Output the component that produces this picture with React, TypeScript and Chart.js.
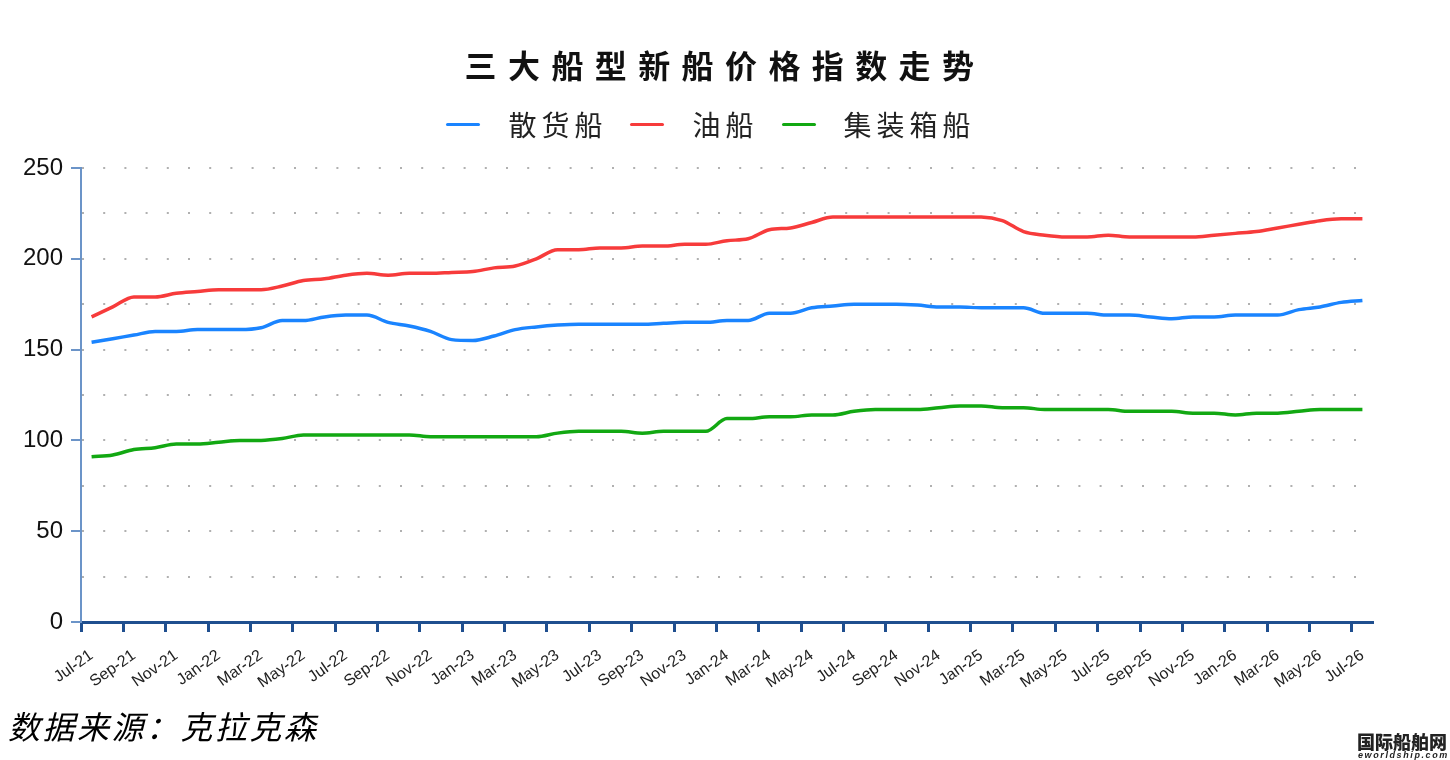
import React, { useEffect, useRef } from 'react';
import { Chart, registerables } from 'chart.js';

Chart.register(...registerables);

// monthly categories, Jul-21 .. Jul-26
const months = [
  'Jul-21', 'Aug-21', 'Sep-21', 'Oct-21', 'Nov-21', 'Dec-21',
  'Jan-22', 'Feb-22', 'Mar-22', 'Apr-22', 'May-22', 'Jun-22',
  'Jul-22', 'Aug-22', 'Sep-22', 'Oct-22', 'Nov-22', 'Dec-22',
  'Jan-23', 'Feb-23', 'Mar-23', 'Apr-23', 'May-23', 'Jun-23',
  'Jul-23', 'Aug-23', 'Sep-23', 'Oct-23', 'Nov-23', 'Dec-23',
  'Jan-24', 'Feb-24', 'Mar-24', 'Apr-24', 'May-24', 'Jun-24',
  'Jul-24', 'Aug-24', 'Sep-24', 'Oct-24', 'Nov-24', 'Dec-24',
  'Jan-25', 'Feb-25', 'Mar-25', 'Apr-25', 'May-25', 'Jun-25',
  'Jul-25', 'Aug-25', 'Sep-25', 'Oct-25', 'Nov-25', 'Dec-25',
  'Jan-26', 'Feb-26', 'Mar-26', 'Apr-26', 'May-26', 'Jun-26',
  'Jul-26',
];

// 散货船
const bulkIndex = [
  154, 156, 158, 160, 160, 161, 161, 161, 162, 166, 166, 168, 169, 169, 165, 163,
  160, 155.5, 155, 157.5, 161, 162.5, 163.5, 164, 164, 164, 164, 164.5, 165, 165, 166,
  166, 170, 170, 173, 174, 175, 175, 175, 174.5, 173.5, 173.5, 173, 173, 173, 170,
  170, 170, 169, 169, 168, 167, 168, 168, 169, 169, 169, 172, 173.5, 176, 177,
];

// 油船
const tankerIndex = [
  168, 173.5, 179, 179, 181, 182, 183, 183, 183, 185, 188, 189, 191, 192, 191, 192,
  192, 192.5, 193, 195, 196, 200, 205, 205, 206, 206, 207, 207, 208, 208, 210,
  211, 216, 217, 220, 223, 223, 223, 223, 223, 223, 223, 223, 221, 215, 213,
  212, 212, 213, 212, 212, 212, 212, 213, 214, 215, 217, 219, 221, 222, 222,
];

// 集装箱船
const containerIndex = [
  91, 92, 95, 96, 98, 98, 99, 100, 100, 101, 103, 103, 103, 103, 103, 103,
  102, 102, 102, 102, 102, 102, 104, 105, 105, 105, 104, 105, 105, 105, 112,
  112, 113, 113, 114, 114, 116, 117, 117, 117, 118, 119, 119, 118, 118, 117,
  117, 117, 117, 116, 116, 116, 115, 115, 114, 115, 115, 116, 117, 117, 117,
];

const seriesNames = ['散货船', '油船', '集装箱船'];
const seriesColors = ['#1a84ff', '#f73b3b', '#12a812'];

const sansFont = '"Liberation Sans", Arial, sans-serif';
const cjkFont = '"Noto Sans CJK SC", sans-serif';

export default function App() {
  const chartRef = useRef<HTMLCanvasElement>(null);

  useEffect(() => {
    if (!chartRef.current) return;
    const ctx = chartRef.current.getContext('2d');
    if (!ctx) return;

    const series = [bulkIndex, tankerIndex, containerIndex];

    const chart = new Chart(ctx, {
      type: 'line',
      data: {
        labels: months,
        datasets: series.map((data, i) => ({
          label: seriesNames[i],
          data,
          borderColor: seriesColors[i],
          backgroundColor: seriesColors[i],
          borderWidth: 3.5,
          pointRadius: 0,
          cubicInterpolationMode: 'monotone' as const,
        })),
      },
      options: {
        responsive: true,
        maintainAspectRatio: false,
        animation: false,
        layout: { padding: { top: 168, right: 77, bottom: 68, left: 0 } },
        plugins: {
          legend: { display: false },
          title: { display: false },
          tooltip: { enabled: false },
        },
        scales: {
          x: {
            offset: true,
            grid: {
              offset: true,
              drawOnChartArea: false,
              tickLength: 10,
              tickWidth: 3,
              tickColor: (c: any) => (c.index % 2 === 0 ? '#1f4f8f' : 'transparent'),
            },
            border: { color: '#1f4f8f', width: 3 },
            ticks: {
              autoSkip: false,
              minRotation: 35,
              maxRotation: 35,
              padding: 14,
              color: '#222',
              font: { family: sansFont, size: 16 },
              callback: (_v: any, i: number) => (i % 2 === 0 ? months[i] : ''),
            },
            afterFit: (s: any) => {
              s.height = 70;
            },
          },
          y: {
            min: 0,
            max: 250,
            ticks: {
              stepSize: 25,
              padding: 8,
              color: '#111',
              font: { family: sansFont, size: 24 },
              callback: (v: any) => (v % 50 === 0 ? v : ''),
            },
            grid: {
              color: (c: any) => (c.tick && c.tick.value === 0 ? 'transparent' : '#b0b0b0'),
              lineWidth: 2,
              tickLength: 10,
              tickWidth: 2,
              tickColor: (c: any) => (c.tick && c.tick.value % 50 === 0 ? '#6b94c8' : 'transparent'),
            },
            border: { color: '#6b94c8', width: 2, dash: [2, 19.2] },
            afterFit: (s: any) => {
              s.width = 81;
            },
          },
        },
      },
    });

    return () => {
      chart.destroy();
    };
  }, []);

  return (
    <div style={{ position: 'absolute', left: 0, top: 0, width: 1450, height: 760, background: '#fff', overflow: 'hidden' }}>
      <div style={{ position: 'absolute', left: 0, top: 0, width: 1450, height: 760 }}>
        <canvas ref={chartRef} />
      </div>

      <div
        style={{
          position: 'absolute', left: 0, top: 48, width: 1450,
          textAlign: 'center', fontFamily: cjkFont, fontSize: 32, fontWeight: 700,
          lineHeight: '32px', letterSpacing: 11.4, color: '#111',
        }}
      >
        三大船型新船价格指数走势
      </div>

      <div
        style={{
          position: 'absolute', left: 0, top: 110, width: 1450, height: 28, paddingRight: 28,
          boxSizing: 'border-box', display: 'flex', justifyContent: 'center', alignItems: 'center',
          fontFamily: cjkFont, fontSize: 28, lineHeight: '28px', letterSpacing: 5, color: '#222',
        }}
      >
        {seriesNames.map((name, i) => (
          <React.Fragment key={name}>
            <span style={{ display: 'inline-block', width: 34, height: 3, borderRadius: 2, background: seriesColors[i], marginRight: 28 }} />
            <span style={{ marginRight: i < seriesNames.length - 1 ? 23 : 0 }}>{name}</span>
          </React.Fragment>
        ))}
      </div>

      <div
        style={{
          position: 'absolute', left: 8, top: 709, fontFamily: cjkFont, fontSize: 32,
          fontStyle: 'italic', lineHeight: '32px', letterSpacing: 2.5, color: '#000',
        }}
      >
        数据来源：克拉克森
      </div>

      <div style={{ position: 'absolute', left: 1357, top: 732, fontFamily: cjkFont, fontSize: 18, fontWeight: 900, lineHeight: '18px', color: '#222' }}>
        国际船舶网
      </div>
      <div style={{ position: 'absolute', left: 1358, top: 751, fontFamily: sansFont, fontSize: 9, fontStyle: 'italic', fontWeight: 700, lineHeight: '9px', letterSpacing: 1.6, color: '#222' }}>
        eworldship.com
      </div>
    </div>
  );
}
